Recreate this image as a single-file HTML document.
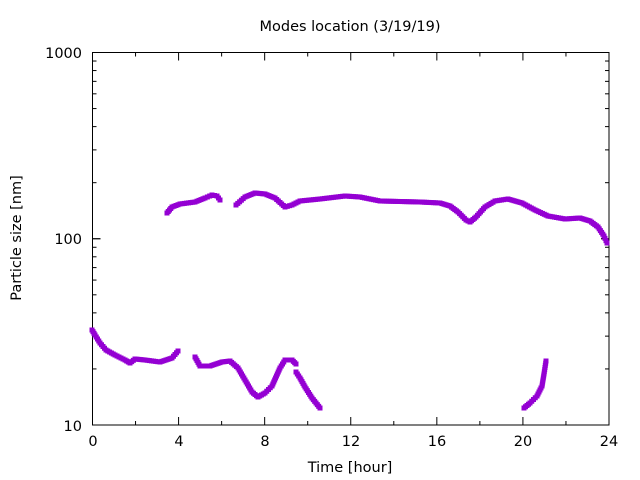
<!DOCTYPE html>
<html><head><meta charset="utf-8"><style>
html,body{margin:0;padding:0;background:#fff;}
svg{display:block;font-family:"DejaVu Sans","Liberation Sans",sans-serif;}
</style></head><body>
<svg id="s" width="640" height="480" xmlns="http://www.w3.org/2000/svg">
<rect width="640" height="480" fill="#fff"/>
<text x="350" y="31" font-size="14.5" text-anchor="middle">Modes location (3/19/19)</text>
<text x="350" y="472" font-size="14.5" text-anchor="middle">Time [hour]</text>
<text transform="translate(21,238) rotate(-90)" font-size="14.5" text-anchor="middle">Particle size [nm]</text>
<g font-size="14.5" text-anchor="end">
<text x="82" y="58">1000</text><text x="82" y="244">100</text><text x="82" y="431">10</text>
</g>
<g font-size="14.5" text-anchor="middle">
<text x="93" y="446">0</text><text x="179" y="446">4</text><text x="265" y="446">8</text><text x="351" y="446">12</text><text x="437" y="446">16</text><text x="523" y="446">20</text><text x="609" y="446">24</text>
</g>
<g id="ticks" stroke="#000" stroke-width="1"></g>
<rect x="92.5" y="52.5" width="516.5" height="372.5" fill="none" stroke="#000" stroke-width="1"/>
<g id="pts" fill="#9400d3"></g>
</svg>
<script>
var t=document.getElementById('ticks'),h='';
var L=92.5,R=609,T=52.5,B=425;
for(var i=0;i<=12;i++){var x=L+i*(R-L)/12;h+='<line x1="'+x+'" y1="'+B+'" x2="'+x+'" y2="'+(B-(i%2?4:8))+'"/><line x1="'+x+'" y1="'+T+'" x2="'+x+'" y2="'+(T+(i%2?4:8))+'"/>';}
var dec=(B-T)/2;
for(var d=0;d<2;d++)for(var m=1;m<=10;m++){var y=B-dec*d-dec*Math.log10(m);var len=(m==1||m==10)?8:4;
h+='<line x1="'+L+'" y1="'+y+'" x2="'+(L+len)+'" y2="'+y+'"/><line x1="'+R+'" y1="'+y+'" x2="'+(R-len)+'" y2="'+y+'"/>';}
t.innerHTML=h;
var segs=[
[[167,213],[172,207],[180,204],[195,202],[205,198],[212,195],[217,196],[220,200]],
[[236,205],[245,197],[255,193],[265,194],[275,198],[285,207],[292,205],[300,201],[320,199],[345,196],[360,197],[380,201],[420,202],[440,203],[450,206],[458,212],[466,220],[470,222],[476,217],[485,207],[495,201],[508,199],[522,203],[535,210],[548,216],[565,219],[580,218],[590,221],[598,227],[604,236],[607,243]],
[[92,330],[95,335],[100,343],[106,350],[115,355],[125,360],[130,363],[135,359],[145,360],[160,362],[172,358],[178,351]],
[[195,357],[200,366],[210,366],[222,362],[230,361],[238,368],[245,380],[252,392],[258,397],[265,393],[272,386],[280,368],[285,360],[292,360],[296,364]],
[[296,372],[300,378],[305,387],[312,398],[320,408]],
[[524,408],[530,403],[537,396],[542,386],[544,374],[546,361]]];
var p='';
segs.forEach(function(s){for(var i=0;i<s.length-1;i++){var a=s[i],b=s[i+1];var dist=Math.hypot(b[0]-a[0],b[1]-a[1]);var n=Math.max(1,Math.round(dist/2.2));
for(var k=0;k<n;k++){var f=k/n;var x=a[0]+(b[0]-a[0])*f,y=a[1]+(b[1]-a[1])*f;p+='<rect x="'+(x-2.5)+'" y="'+(y-2.5)+'" width="5" height="5"/>';}}
var e=s[s.length-1];p+='<rect x="'+(e[0]-2.5)+'" y="'+(e[1]-2.5)+'" width="5" height="5"/>';});
document.getElementById('pts').innerHTML=p;
</script>
</body></html>
